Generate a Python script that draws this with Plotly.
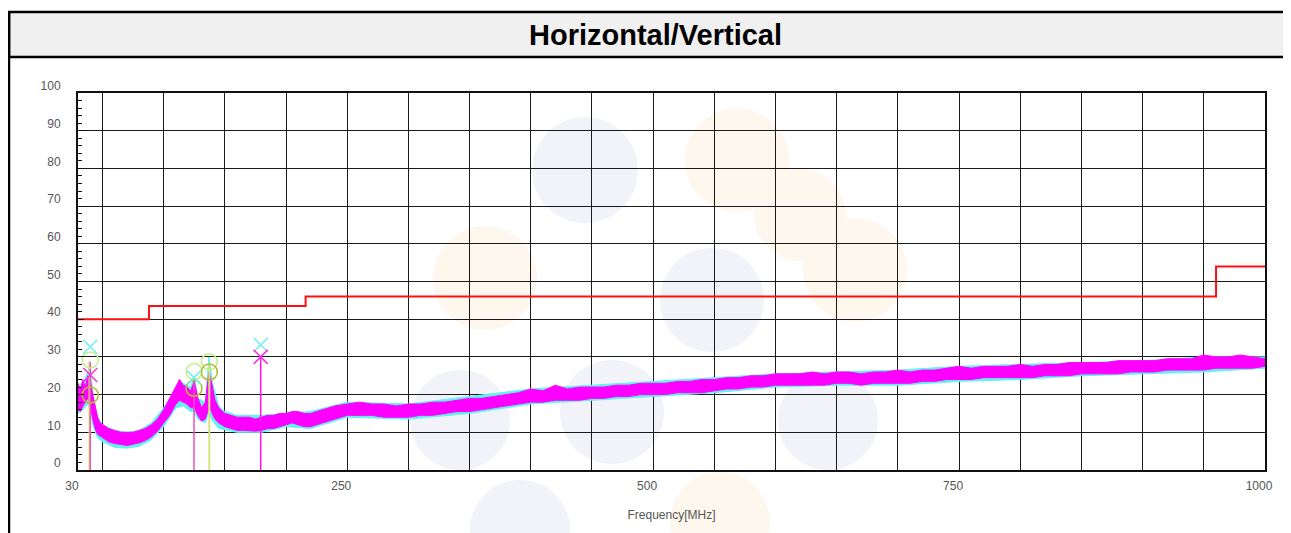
import plotly.graph_objects as go

# ---------------- data ----------------
freq = [30, 32, 34, 36, 38, 40, 42, 44, 46, 48, 50, 55, 60, 65, 70, 75, 80, 85, 90, 95,
        100, 105, 110, 113, 116, 119, 122, 125, 128, 131, 134, 137, 139, 142, 145, 150,
        155, 160, 165, 170, 175, 180, 185, 190, 195, 200, 205, 210, 215, 220, 230, 240,
        250, 260, 270, 280, 290, 300, 310, 320, 330, 340, 350, 360, 370, 380, 390, 400,
        410, 420, 430, 440, 450, 460, 470, 480, 490, 500, 510, 520, 530, 540, 550, 560,
        570, 580, 590, 600, 610, 620, 630, 640, 650, 660, 670, 680, 690, 700, 710, 720,
        730, 740, 750, 760, 770, 780, 790, 800, 810, 820, 830, 840, 850, 860, 870, 880,
        890, 900, 910, 920, 930, 940, 950, 960, 970, 980, 990, 1000]

vert_hi = [23, 21.5, 24, 22, 25, 24, 20, 16.5, 14, 12.5, 12, 11, 10.5, 10, 10, 10, 10.5, 11, 12, 13.5,
           16, 19, 22, 24, 22.5, 22, 21, 23.5, 19, 16.5, 18, 26, 23.5, 18.5, 16.5, 15,
           14.5, 14, 14, 14, 13.5, 14, 14.5, 14.5, 15, 15, 15.5, 15.5, 15, 15, 16, 17,
           17.5, 18, 17.5, 17.5, 17, 17.5, 17.5, 18, 18, 18.5, 19, 19, 19.5, 20, 20.5, 21.5,
           21, 22.5, 21.5, 22, 22, 22, 22.5, 22.5, 23, 23, 23, 23.5, 23.5, 24, 24, 24.5,
           24.5, 25, 25, 25.5, 25.5, 25.5, 26, 25.5, 26, 26, 25.5, 26, 26, 26.5, 26, 26.5,
           26.5, 27, 27.5, 27, 27.5, 27.5, 27.5, 28, 27.5, 28, 28, 28.5, 28.5, 28.5, 28.5, 29,
           29, 29, 29, 29.5, 29.5, 29.5, 30.5, 30, 30, 30.5, 30, 29.5]

vert_lo = [16, 15.5, 17, 18, 19, 17.5, 13.5, 11, 9.5, 9, 8.5, 7.5, 7, 6.8, 6.5, 6.8, 7.2, 7.8, 8.8, 10.3,
           12.5, 14.5, 17.5, 18.5, 18, 17.5, 16.5, 16.5, 14.5, 13, 13.5, 16.5, 15.5, 13.5, 12.5, 11.5,
           11, 10.5, 10.5, 10.5, 10.3, 10.5, 11, 11, 11.5, 12, 12.5, 12, 11.5, 11.5, 12.5, 13.5,
           14.5, 14.5, 14.5, 14, 14, 14, 14.5, 14.5, 15, 15.5, 15.5, 16, 16.5, 17, 17.5, 18,
           18, 18.5, 18.5, 18.5, 19, 19, 19.5, 19.5, 20, 20, 20, 20.5, 20.5, 20.5, 21, 21.5,
           21.5, 22, 22, 22.5, 22.5, 22.5, 22.5, 22.5, 23, 23, 22.5, 23, 23, 23, 23, 23.5,
           23.5, 24, 24, 24, 24.5, 24.5, 24.5, 24.5, 24.5, 25, 25, 25, 25.5, 25.5, 25.5, 25.5,
           26, 26, 26, 26.5, 26.5, 26.5, 26.5, 27, 27, 27, 27, 27.5]

horiz_freq = [30, 34, 38, 40, 42, 46, 50, 60, 70, 80, 90, 100, 110, 116, 122, 125, 128, 134,
              137, 140, 145, 150, 160, 180, 200, 220, 250, 300, 350, 400, 450, 500, 550,
              600, 650, 700, 750, 800, 850, 900, 950, 1000]
horiz_hi = [22, 23, 26, 28, 20, 14, 12, 10.5, 10, 10.5, 12.5, 16.5, 21.5, 23, 22, 25, 19, 18,
            30, 23, 17, 15.5, 14.5, 14.5, 15, 15.5, 18, 17.5, 19.5, 21.5, 22.5, 23.5, 24.5,
            25.5, 26, 26.5, 27.5, 28, 28.5, 29, 30, 30]
horiz_lo = [15, 16, 17.5, 16, 12, 8.5, 7.5, 6, 5.8, 6.3, 8, 11.5, 16.5, 17, 15.5, 15.5, 13.5, 12.5,
            15.5, 13, 11, 10.8, 10, 10, 11.5, 11, 14, 13.5, 15, 17.5, 18.5, 19.5, 20.5,
            22, 22.5, 22.5, 23.5, 24, 25, 25.5, 26, 27]

limit_freq = [30, 88, 216, 960, 1000]
limit_level = [40, 43.5, 46, 54, 54]

peak_h_freq = [40, 124.8, 179.3]
peak_h_level = [32.7, 24.5, 33.2]
peak_v_freq = [40, 179.3]
peak_v_level = [25.2, 30]
qp_h_freq = [40, 124.8, 137.3]
qp_h_level = [29.2, 26.1, 28.7]
qp_v_freq = [40, 124.8, 137.3]
qp_v_level = [19.9, 21.7, 26.0]

stem_pink_freq = [40, 124.8]
stem_pink_top = [28.6, 24.7]
stem_green_freq = [39.4, 137.3]
stem_green_top = [29.0, 28.4]
stem_mag_freq = [179.3]
stem_mag_top = [30.0]

x_tick_vals = [30, 250, 500, 750, 1000]
x_tick_text = ["30", "250", "500", "750", "1000"]

title_text = "Horizontal/Vertical"
x_title = "Frequency[MHz]"

# ---------------- figure ----------------
fig = go.Figure()


def band(fx, hi, lo, color):
    return go.Scatter(x=list(fx) + list(fx)[::-1], y=list(hi) + list(lo)[::-1],
                      mode="lines", fill="toself", fillcolor=color,
                      line=dict(color=color, width=1), hoverinfo="skip")


def stems(fx, tops, color, width):
    xs, ys = [], []
    for f, t in zip(fx, tops):
        xs += [f, f, None]
        ys += [0, t, None]
    return go.Scatter(x=xs, y=ys, mode="lines", line=dict(color=color, width=width),
                      hoverinfo="skip")


fig.add_trace(band(horiz_freq, horiz_hi, horiz_lo, "#66f0f0"))
fig.add_trace(band(freq, vert_hi, vert_lo, "#ff00ff"))
fig.add_trace(go.Scatter(x=limit_freq, y=limit_level, mode="lines", line_shape="hv",
                         line=dict(color="#ff1010", width=2)))
fig.add_trace(stems(stem_green_freq, stem_green_top, "#d2e47e", 2))
fig.add_trace(stems(stem_pink_freq, stem_pink_top, "#f050b8", 1.5))
fig.add_trace(stems(stem_mag_freq, stem_mag_top, "#ff10f0", 1.5))

fig.add_trace(go.Scatter(x=qp_h_freq, y=qp_h_level, mode="markers",
                         marker=dict(symbol="circle-open", size=16, color="#c4ec8a",
                                     line=dict(width=1.5))))
fig.add_trace(go.Scatter(x=qp_v_freq, y=qp_v_level, mode="markers",
                         marker=dict(symbol="circle-open", size=16, color="#b8b830",
                                     line=dict(width=1.5))))
fig.add_trace(go.Scatter(x=peak_h_freq, y=peak_h_level, mode="markers",
                         marker=dict(symbol="x-thin-open", size=14, color="#70f0f0",
                                     line=dict(width=1.5, color="#70f0f0"))))
fig.add_trace(go.Scatter(x=peak_v_freq, y=peak_v_level, mode="markers",
                         marker=dict(symbol="x-thin-open", size=14, color="#ff30e0",
                                     line=dict(width=1.5, color="#ff30e0"))))

# ---------------- layout ----------------
# the page body has an 8px margin, so the figure starts at page (8, 8)
OFF = 8
W, H = 1291 - OFF, 533 - OFF
ML, MR, MT, MB = 78 - OFF, 1291 - 1265, 93 - OFF, 533 - 470
PW, PH = W - ML - MR, H - MT - MB


def px_x(p):
    # page pixel x -> paper coordinate
    return (p - OFF - ML) / PW


def px_y(p):
    # page pixel y -> paper coordinate
    return (H - MB - (p - OFF)) / PH


shapes = []
# faint watermark
wm_blue = "#f1f3f8"
wm_orange = "#fef7ee"
for cx, cy, r, col in [(585, 170, 53, wm_blue), (737, 160, 52, wm_orange),
                       (800, 215, 46, wm_orange), (855, 270, 52, wm_orange),
                       (485, 278, 52, wm_orange), (712, 300, 52, wm_blue),
                       (460, 420, 50, wm_blue), (612, 412, 52, wm_blue),
                       (828, 420, 50, wm_blue), (720, 522, 50, wm_orange),
                       (520, 530, 50, wm_blue)]:
    shapes.append(dict(type="circle", xref="paper", yref="paper", layer="below",
                       x0=px_x(cx - r), x1=px_x(cx + r), y0=px_y(cy + r), y1=px_y(cy - r),
                       fillcolor=col, line=dict(width=0)))
# title band and outer frame
shapes.append(dict(type="rect", xref="paper", yref="paper", layer="above",
                   x0=px_x(9), x1=px_x(1300), y0=px_y(57), y1=px_y(12),
                   fillcolor="#f0f0f0", line=dict(color="black", width=2.5)))
shapes.append(dict(type="line", xref="paper", yref="paper", layer="above",
                   x0=px_x(9), x1=px_x(9), y0=px_y(12), y1=px_y(540),
                   line=dict(color="black", width=2.5)))

fig.update_layout(
    width=W, height=H,
    margin=dict(l=ML, r=MR, t=MT, b=MB),
    paper_bgcolor="white", plot_bgcolor="rgba(0,0,0,0)",
    showlegend=False,
    font=dict(family="Liberation Sans Narrow, Arial Narrow, Liberation Sans, sans-serif",
              size=12, color="#555"),
    shapes=shapes,
    annotations=[dict(text="<b>" + title_text + "</b>", xref="paper", yref="paper",
                      x=px_x(655), y=px_y(35), showarrow=False, xanchor="center",
                      yanchor="middle",
                      font=dict(family="Liberation Sans, Arial, sans-serif", size=29,
                                color="black"))],
)

fig.update_xaxes(
    range=[30, 1000], tickvals=x_tick_vals, ticktext=x_tick_text,
    showgrid=True, gridcolor="#1a1a1a", gridwidth=1,
    minor=dict(tick0=0, dtick=50, showgrid=True, gridcolor="#1a1a1a", gridwidth=1, ticks=""),
    showline=True, linecolor="#111", linewidth=2, mirror=True,
    ticks="", ticklabelshift=-6, ticklabelstandoff=4, zeroline=False,
    title=dict(text=x_title, standoff=18, font=dict(size=12, color="#555")),
)
fig.update_yaxes(
    range=[0, 100], tick0=0, dtick=10,
    showgrid=True, gridcolor="#1a1a1a", gridwidth=1,
    showline=True, linecolor="#111", linewidth=2, mirror=True,
    ticks="inside", ticklen=6, tickcolor="#111",
    minor=dict(tick0=0, dtick=2, ticks="inside", ticklen=4, tickcolor="#111", showgrid=False),
    ticklabelshift=-7, ticklabelstandoff=13, zeroline=False,
)

fig.write_html("out.html")
